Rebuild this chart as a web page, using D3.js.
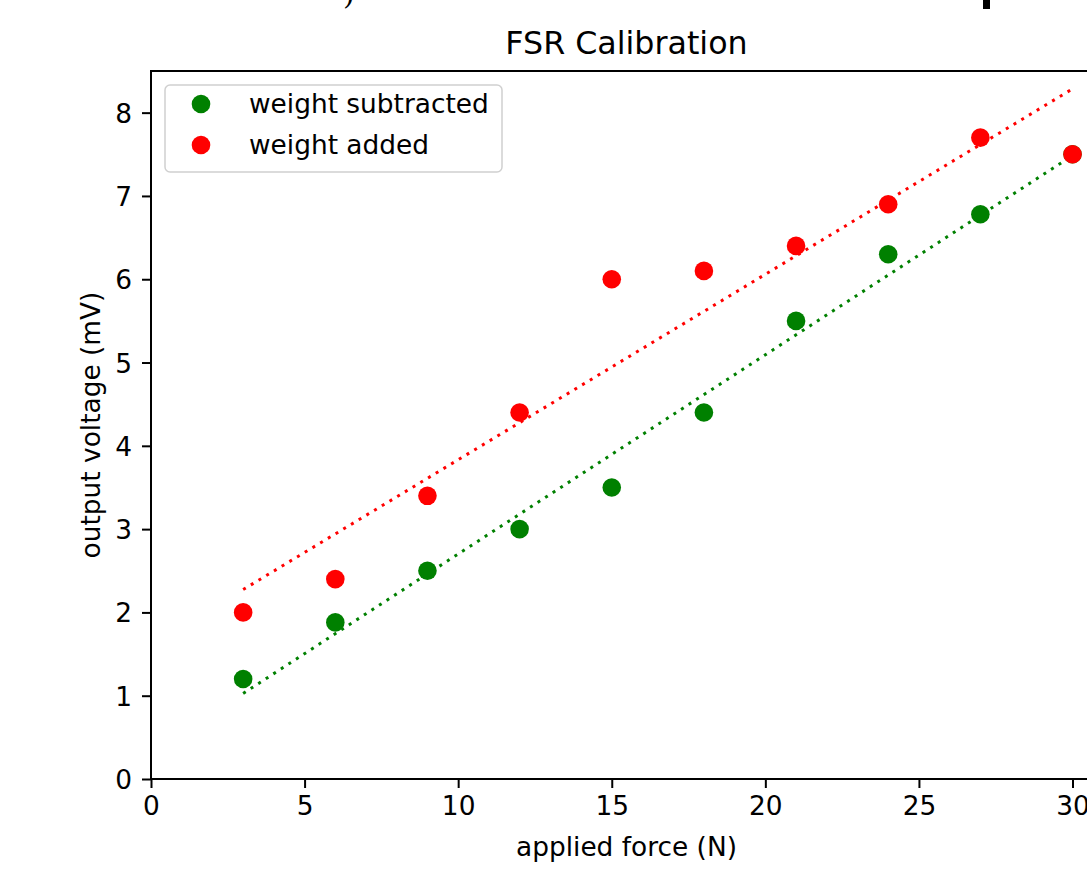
<!DOCTYPE html>
<html>
<head>
<meta charset="utf-8">
<script src="https://cdn.jsdelivr.net/npm/d3@7"></script>
<style>
  html, body { margin: 0; padding: 0; background: #fff; overflow: hidden; }
  svg text { font-family: "DejaVu Sans", sans-serif; fill: #000; }
</style>
</head>
<body>
<script>
//applied force steps (N)
var force = [3, 6, 9, 12, 15, 18, 21, 24, 27, 30];

//output voltage readings (mV)
var subtracted = [1.2, 1.88, 2.5, 3.0, 3.5, 4.4, 5.5, 6.3, 6.78, 7.5];
var added = [2.0, 2.4, 3.4, 4.4, 6.0, 6.1, 6.4, 6.9, 7.7, 7.5];

//axis ticks
var xTicks = [0, 5, 10, 15, 20, 25, 30];
var yTicks = [0, 1, 2, 3, 4, 5, 6, 7, 8];

var seriesNames = ["weight subtracted", "weight added"];
var seriesColors = ["#008000", "#ff0000"];
var lineColors = ["#008000", "#ff0000"];

window.onload = drawChart();

function drawChart(){
	var width = 1087,
		height = 873;

	var svg = d3.select("body")
		.append("svg")
		.attr("width", width)
		.attr("height", height);

	//plot frame
	var left = 151, right = 1102, top = 71, bottom = 779;

	var x = d3.scaleLinear().domain([0, 30.96]).range([left, right]);
	var y = d3.scaleLinear().domain([0, 8.5]).range([bottom, top]);

	//leftover bits at the top edge of the page
	svg.append("text")
		.attr("x", 343)
		.attr("y", 4)
		.style("font-family", "DejaVu Serif, serif")
		.style("font-size", "30px")
		.text(")");
	svg.append("rect")
		.attr("x", 983).attr("y", 0)
		.attr("width", 7).attr("height", 9)
		.attr("fill", "#000");

	//least squares fit for each series
	function fit(xs, ys){
		var mx = d3.mean(xs), my = d3.mean(ys);
		var sxy = d3.sum(xs, function(v, i){ return (v - mx) * (ys[i] - my); });
		var sxx = d3.sum(xs, function(v){ return (v - mx) * (v - mx); });
		var m = sxy / sxx;
		return { m: m, b: my - m * mx };
	}

	var series = [subtracted, added];

	var line = d3.line()
		.x(function(d){ return x(d[0]); })
		.y(function(d){ return y(d[1]); });

	series.forEach(function(vals, i){
		var f = fit(force, vals);
		var ends = [force[0], force[force.length - 1]].map(function(v){ return [v, f.m * v + f.b]; });
		svg.append("path")
			.datum(ends)
			.attr("d", line)
			.attr("fill", "none")
			.attr("stroke", lineColors[i])
			.attr("stroke-width", 3)
			.attr("stroke-dasharray", "3,6");
	});

	series.forEach(function(vals, i){
		svg.selectAll(".pt" + i)
			.data(vals)
			.enter()
			.append("circle")
			.attr("class", "pt" + i)
			.attr("cx", function(d, j){ return x(force[j]); })
			.attr("cy", function(d){ return y(d); })
			.attr("r", 9.3)
			.attr("fill", seriesColors[i]);
	});

	//axes
	var xAxis = svg.append("g")
		.attr("transform", "translate(0," + bottom + ")")
		.call(d3.axisBottom(x).tickValues(xTicks).tickSize(9).tickPadding(8));
	var yAxis = svg.append("g")
		.attr("transform", "translate(" + left + ",0)")
		.call(d3.axisLeft(y).tickValues(yTicks).tickSize(9).tickPadding(10));

	[xAxis, yAxis].forEach(function(g){
		g.select(".domain").remove();
		g.selectAll(".tick line").attr("stroke", "#000").attr("stroke-width", 2);
		g.selectAll(".tick text").style("font-size", "26.4px").attr("fill", "#000");
	});
	xAxis.selectAll(".tick text").attr("dy", "0.72em");
	yAxis.selectAll(".tick text").attr("dy", "0.36em");

	//spines
	svg.append("rect")
		.attr("x", left).attr("y", top)
		.attr("width", right - left).attr("height", bottom - top)
		.attr("fill", "none")
		.attr("stroke", "#000")
		.attr("stroke-width", 2);

	//titles
	svg.append("text")
		.attr("x", (left + right) / 2)
		.attr("y", 54)
		.attr("text-anchor", "middle")
		.style("font-size", "31.7px")
		.text("FSR Calibration");

	svg.append("text")
		.attr("x", (left + right) / 2)
		.attr("y", 856)
		.attr("text-anchor", "middle")
		.style("font-size", "26.4px")
		.text("applied force (N)");

	svg.append("text")
		.attr("transform", "translate(100," + (top + bottom) / 2 + ") rotate(-90)")
		.attr("text-anchor", "middle")
		.style("font-size", "26.4px")
		.text("output voltage (mV)");

	//legend
	var legend = svg.append("g");
	legend.append("rect")
		.attr("x", 165).attr("y", 85)
		.attr("width", 337).attr("height", 87)
		.attr("rx", 5)
		.attr("fill", "#fff")
		.attr("fill-opacity", 0.8)
		.attr("stroke", "#d0d0d0")
		.attr("stroke-width", 1.5);

	seriesNames.forEach(function(name, i){
		var cy = 104 + i * 41;
		legend.append("circle")
			.attr("cx", 201).attr("cy", cy)
			.attr("r", 9.3)
			.attr("fill", seriesColors[i]);
		legend.append("text")
			.attr("x", 249).attr("y", cy)
			.attr("dy", "0.35em")
			.style("font-size", "26.4px")
			.text(name);
	});
};
</script>
</body>
</html>
